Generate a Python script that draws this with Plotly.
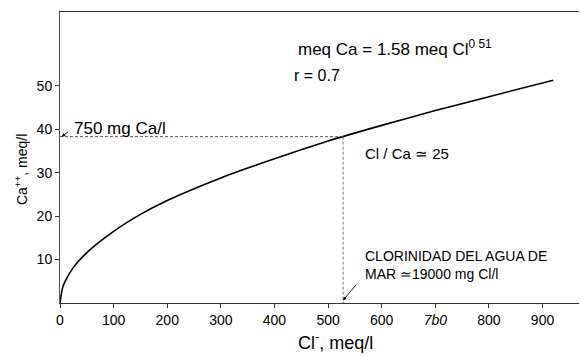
import plotly.graph_objects as go

# Curve (meq Ca vs meq Cl)
cl_meq = [0, 5, 10, 25, 50, 100, 150, 200, 300, 400, 500, 600, 700, 800, 920]
ca_meq = [0, 3.6, 5.1, 8.2, 11.6, 16.5, 20.4, 23.6, 28.8, 33.2, 37.3, 40.9, 44.3, 47.5, 51.3]

# Seawater reference point
sea_cl = 528
sea_ca = 38.3

x_ticks = [0, 100, 200, 300, 400, 500, 600, 700, 800, 900]
x_ticktext = ["0", "100", "200", "300", "400", "500", "600", "<i>7b0</i>", "800", "900"]
y_ticks = [10, 20, 30, 40, 50]

FONT = "Liberation Sans, Arial, sans-serif"

fig = go.Figure()
fig.add_trace(go.Scatter(x=cl_meq, y=ca_meq, mode="lines",
                         line=dict(color="black", width=1.6, shape="spline", smoothing=0.8),
                         hoverinfo="skip", showlegend=False))
# dashed guides
fig.add_trace(go.Scatter(x=[0, sea_cl], y=[sea_ca, sea_ca], mode="lines",
                         line=dict(color="#444", width=0.9, dash="3px,2px"),
                         hoverinfo="skip", showlegend=False))
fig.add_trace(go.Scatter(x=[sea_cl, sea_cl], y=[sea_ca, 0], mode="lines",
                         line=dict(color="#666", width=0.9, dash="3px,2px"),
                         hoverinfo="skip", showlegend=False))

ann = []
ann.append(dict(x=440, y=58.6, xref="x", yref="y", text="meq Ca = 1.58 meq Cl<sup>0 51</sup>",
                showarrow=False, xanchor="left", yanchor="middle",
                font=dict(size=17, color="black", family=FONT)))
ann.append(dict(x=433, y=52.4, xref="x", yref="y", text="r = 0.7",
                showarrow=False, xanchor="left", yanchor="middle",
                font=dict(size=16, color="black", family=FONT)))
ann.append(dict(x=565, y=34.5, xref="x", yref="y", text="Cl / Ca \u2243 25",
                showarrow=False, xanchor="left", yanchor="middle",
                font=dict(size=15, color="black", family=FONT)))
ann.append(dict(x=565, y=8.7, xref="x", yref="y",
                text="CLORINIDAD DEL AGUA DE<br>MAR \u224319000 mg Cl/l",
                showarrow=False, xanchor="left", yanchor="middle", align="left",
                font=dict(size=14, color="black", family=FONT)))
ann.append(dict(x=22, y=40.2, xref="x", yref="y", text="750 mg Ca/l",
                showarrow=False, xanchor="left", yanchor="middle",
                font=dict(size=17, color="black", family=FONT)))
# axis titles
ann.append(dict(x=513, y=-0.178, xref="x", yref="paper", text="Cl<sup>-</sup>, meq/l",
                showarrow=False, xanchor="center", yanchor="bottom",
                font=dict(size=18, color="black", family=FONT)))
ann.append(dict(x=-0.075, y=(303 - 170) / 291.0, xref="paper", yref="paper",
                text="Ca<sup>++</sup>, meq/l", textangle=-90,
                showarrow=False, xanchor="center", yanchor="middle",
                font=dict(size=14, color="black", family=FONT)))
# arrows
ann.append(dict(x=3, y=sea_ca, xref="x", yref="y", ax=18, ay=39.7, axref="x", ayref="y",
                text="", showarrow=True, arrowhead=2, arrowsize=0.8, arrowwidth=0.9,
                arrowcolor="black"))
ann.append(dict(x=sea_cl, y=0.6, xref="x", yref="y", ax=555, ay=4.6, axref="x", ayref="y",
                text="", showarrow=True, arrowhead=2, arrowsize=0.8, arrowwidth=0.9,
                arrowcolor="black"))

fig.update_layout(
    width=581, height=356,
    margin=dict(l=60, r=2, t=12, b=53),
    paper_bgcolor="white", plot_bgcolor="white",
    font=dict(family=FONT, color="black", size=14),
    annotations=ann,
    xaxis=dict(range=[0, 968], tickvals=x_ticks, ticktext=x_ticktext,
               showgrid=False, zeroline=False, showline=True, linecolor="#333", linewidth=1,
               mirror=True, ticks="outside", ticklen=4, tickcolor="#333",
               tickfont=dict(size=14, family=FONT)),
    yaxis=dict(range=[0, 67], tickvals=y_ticks,
               showgrid=False, zeroline=False, showline=True, linecolor="#555", linewidth=1,
               ticks="outside", ticklen=4, tickcolor="#333",
               tickfont=dict(size=14, family=FONT)),
)
fig.write_html("out.html")
